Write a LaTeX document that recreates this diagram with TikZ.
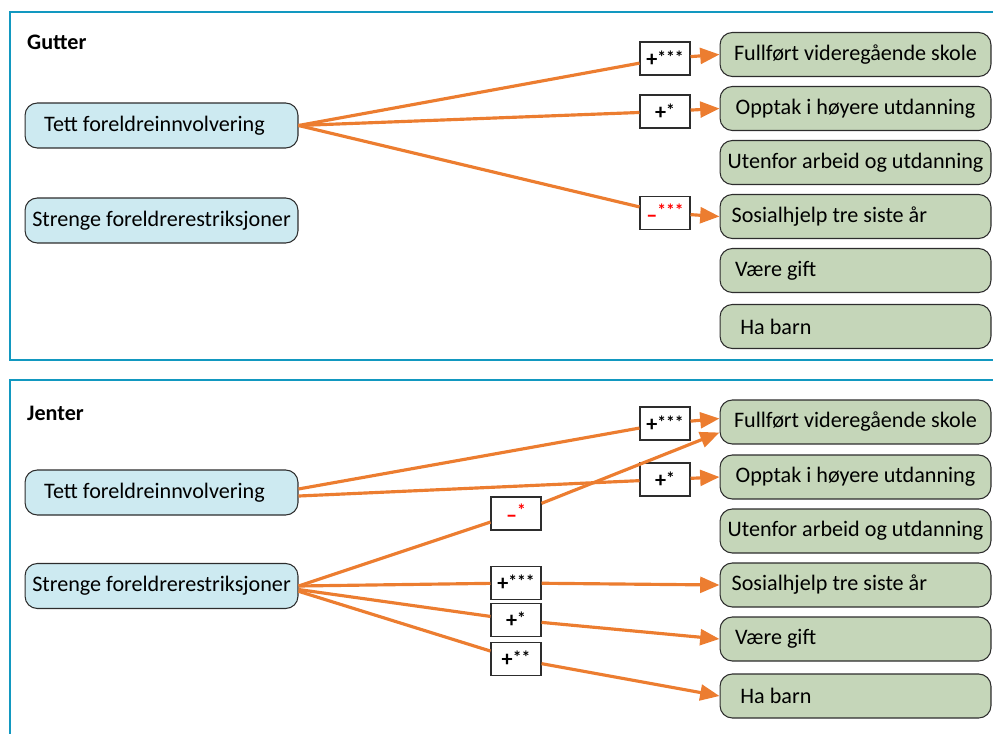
\documentclass[tikz,border=0pt]{standalone}
\usepackage{fontspec}
\setmainfont{Carlito}
\usetikzlibrary{positioning,arrows.meta}

\definecolor{panelblue}{RGB}{18,152,192}
\definecolor{factorfill}{RGB}{205,234,241}
\definecolor{outcomefill}{RGB}{197,214,185}
\definecolor{arroworange}{RGB}{236,125,48}
\definecolor{boxline}{RGB}{45,45,45}

% coefficient labels: sign with stars
\newcommand{\pos}[1]{\textbf{+\raisebox{1.5pt}{\fontsize{10}{12}\selectfont#1}}}
\newcommand{\negc}[1]{\textcolor{red}{\textbf{\raisebox{-2pt}{--}\raisebox{1.5pt}{\fontsize{10}{12}\selectfont#1}}}}

\begin{document}
\begin{tikzpicture}[
    x=0.02cm, y=-0.02cm,
    panel/.style={
        draw=panelblue,
        line width=1.6pt
    },
    title/.style={
        anchor=west,
        font=\fontsize{12.6}{14}\selectfont\bfseries
    },
    factor/.style={
        rectangle,
        rounded corners=7pt,
        minimum width=5.46cm,
        minimum height=0.9cm,
        draw=boxline,
        line width=0.6pt,
        fill=factorfill,
        font=\fontsize{12.6}{14}\selectfont
    },
    outcome/.style={
        rectangle,
        rounded corners=7pt,
        minimum width=5.42cm,
        minimum height=0.88cm,
        draw=boxline,
        line width=0.6pt,
        fill=outcomefill,
        font=\fontsize{12.6}{14}\selectfont
    },
    outcomeL/.style={
        outcome,
        inner xsep=6pt,
        text width=141pt,
        align=flush left
    },
    coef/.style={
        rectangle,
        minimum width=1cm,
        minimum height=0.66cm,
        inner sep=0pt,
        draw=boxline,
        line width=0.6pt,
        fill=white,
        font=\fontsize{12.6}{14}\selectfont
    },
    arrow/.style={
        draw=arroworange,
        line width=1.8pt,
        -{Triangle[length=11pt,width=9pt]}
    }
]

\useasboundingbox (0,0) rectangle (993,733);
\clip (0,0) rectangle (993,733);

% Panels
\draw[panel] (10,12) rectangle (1010,360);
\draw[panel] (10,380) rectangle (1010,760);

% Gutter
\node[title] (gutter) at (21,42) {Gutter};
\node[factor] (tettG) at (161.5,125.5) {\hspace*{-8pt}Tett foreldreinnvolvering};
\node[factor] (strengG) at (161.5,220.5) {Strenge foreldrerestriksjoner};

\node[outcome] (fullG) at (855.5,54.5) {Fullført videregående skole};
\node[outcome] (opptakG) at (855.5,108.5) {Opptak i høyere utdanning};
\node[outcome] (utenG) at (855.5,162.5) {Utenfor arbeid og utdanning};
\node[outcomeL] (sosG) at (855.5,216.5) {Sosialhjelp tre siste år};
\node[outcomeL] (giftG) at (855.5,270.5) {\hspace*{2pt}Være gift};
\node[outcomeL] (barnG) at (855.5,326.5) {\hspace*{5pt}Ha barn};

\node[coef] (g1) at (665,58.5) {\pos{***}};
\node[coef] (g2) at (665,111.5) {\pos{*}};
\node[coef] (g3) at (665,213) {\negc{***}};

\draw[arrow] (tettG.east) -- (g1) -- (fullG.west);
\draw[arrow] (tettG.east) -- (g2) -- (opptakG.west);
\draw[arrow] (tettG.east) -- (g3) -- (sosG.west);

% Jenter
\node[title] (jenter) at (21,413) {Jenter};
\node[factor] (tettJ) at (161.5,492.5) {\hspace*{-8pt}Tett foreldreinnvolvering};
\node[factor] (strengJ) at (161.5,586) {Strenge foreldrerestriksjoner};

\node[outcome] (fullJ) at (855.5,422) {Fullført videregående skole};
\node[outcome] (opptakJ) at (855.5,477) {Opptak i høyere utdanning};
\node[outcome] (utenJ) at (855.5,531) {Utenfor arbeid og utdanning};
\node[outcomeL] (sosJ) at (855.5,585) {Sosialhjelp tre siste år};
\node[outcomeL] (giftJ) at (855.5,639) {\hspace*{2pt}Være gift};
\node[outcomeL] (barnJ) at (855.5,696) {\hspace*{5pt}Ha barn};

\node[coef] (j1) at (665,423.5) {\pos{***}};
\node[coef] (j2) at (665,479.5) {\pos{*}};
\node[coef] (j3) at (516,513.5) {\negc{*}};
\node[coef] (j4) at (516,583) {\pos{***}};
\node[coef] (j5) at (516,620) {\pos{*}};
\node[coef] (j6) at (516,659) {\pos{**}};

\draw[arrow] ([yshift=2pt]tettJ.east) -- (j1) -- ([yshift=2pt]fullJ.west);
\draw[arrow] ([yshift=-2pt]tettJ.east) -- (j2) -- (opptakJ.west);
\draw[arrow] (strengJ.east) -- (j3) -- ([yshift=-6pt]fullJ.west);
\draw[arrow] (strengJ.east) -- (j4) -- (sosJ.west);
\draw[arrow] ([yshift=-2pt]strengJ.east) -- (j5) -- (giftJ.west);
\draw[arrow] ([yshift=-3pt]strengJ.east) -- (j6) -- (barnJ.west);

\end{tikzpicture}
\end{document}
